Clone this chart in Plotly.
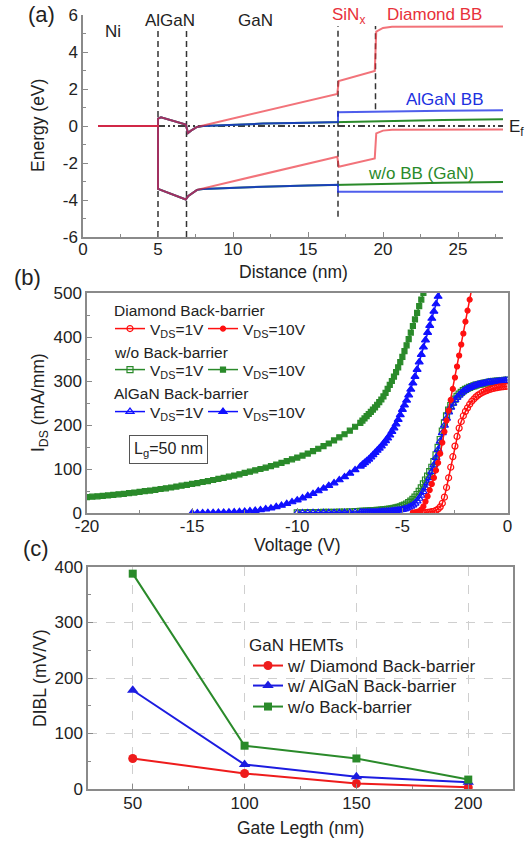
import plotly.graph_objects as go

# ---------------- Panel (a): band diagram ----------------
dist_red_cb = [1, 5, 5, 5.2, 6.85, 7.0, 7.2, 7.6, 16.95, 17.05, 19.45, 19.55, 20.0, 20.6, 28]
cb_red = [0, 0, 0.4, 0.47, 0.08, -0.38, -0.25, -0.05, 1.73, 2.43, 2.97, 5.1, 5.3, 5.37, 5.38]
dist_red_vb = [1, 5, 5, 6.85, 7.0, 7.3, 7.6, 16.95, 17.05, 19.45, 19.55, 20.0, 20.6, 28]
vb_red = [0, 0, -3.4, -3.97, -3.8, -3.6, -3.45, -1.66, -2.2, -1.75, -0.4, -0.25, -0.2, -0.19]

dist_bg_cb = [1, 5, 5, 5.2, 6.85, 7.0, 7.2, 7.6, 8, 10, 12, 15, 17, 17, 20, 24, 28]
cb_blue = [0, 0, 0.4, 0.47, 0.08, -0.38, -0.25, -0.05, 0, 0.08, 0.13, 0.18, 0.22, 0.75, 0.8, 0.83, 0.85]
cb_green = [0, 0, 0.4, 0.47, 0.08, -0.38, -0.25, -0.05, 0, 0.08, 0.13, 0.18, 0.22, 0.22, 0.27, 0.32, 0.37]
dist_bg_vb = [1, 5, 5, 6.85, 7.0, 7.3, 7.6, 8, 10, 12, 15, 17, 17, 20, 24, 28]
vb_blue = [0, 0, -3.4, -3.97, -3.8, -3.6, -3.45, -3.4, -3.32, -3.28, -3.22, -3.18, -3.55, -3.55, -3.55, -3.55]
vb_green = [0, 0, -3.4, -3.97, -3.8, -3.6, -3.45, -3.4, -3.32, -3.28, -3.22, -3.18, -3.18, -3.12, -3.07, -3.03]

fermi_x = [1, 28]
fermi_e = [0, 0]

bound_x = [5, 6.9, 17, 19.5]
bound_top = [5.2, 5.2, 5.4, 5.4]
bound_bottom = [-6, -6, -4.9, 0.9]

energy_ticks = [-6, -4, -2, 0, 2, 4, 6]
energy_ticktext = ["-6", "-4", "-2", "0", "2", "4", "6"]

# ---------------- Panel (b): transfer curves ----------------
V_COARSE = [-20.0, -19.75, -19.5, -19.25, -19.0, -18.75, -18.5, -18.25, -18.0, -17.75,
            -17.5, -17.25, -17.0, -16.75, -16.5, -16.25, -16.0, -15.75, -15.5, -15.25,
            -15.0, -14.75, -14.5, -14.25, -14.0, -13.75, -13.5, -13.25, -13.0, -12.75,
            -12.5, -12.25, -12.0, -11.75, -11.5, -11.25, -11.0, -10.75, -10.5, -10.25,
            -10.0, -9.75, -9.5, -9.25, -9.0, -8.75, -8.5, -8.25, -8.0, -7.75,
            -7.5, -7.25, -7.0]
V_FINE = [-6.9, -6.8, -6.7, -6.6, -6.5, -6.4, -6.3, -6.2, -6.1, -6.0,
          -5.9, -5.8, -5.7, -5.6, -5.5, -5.4, -5.3, -5.2, -5.1, -5.0,
          -4.9, -4.8, -4.7, -4.6, -4.5, -4.4, -4.3, -4.2, -4.1, -4.0,
          -3.9, -3.8, -3.7, -3.6, -3.5, -3.4, -3.3, -3.2, -3.1, -3.0,
          -2.9, -2.8, -2.7, -2.6, -2.5, -2.4, -2.3, -2.2, -2.1, -2.0,
          -1.9, -1.8, -1.7, -1.6, -1.5, -1.4, -1.3, -1.2, -1.1, -1.0,
          -0.9, -0.8, -0.7, -0.6, -0.5, -0.4, -0.3, -0.2, -0.1, 0.0]

# w/o back-barrier, VDS=10V  (V_COARSE all + V_FINE[-6.9 .. -4.0])
wo_10v = [36, 37, 38, 39, 40, 41, 42.5, 43.5, 45, 46.5, 48, 49.5, 51, 52.5, 54.5, 56, 58, 60, 62, 64,
          66, 68, 70.5, 72.5, 75, 77.5, 80, 82.5, 85, 88, 91, 94, 97, 100, 103, 106.5, 110, 114, 118, 122,
          126, 130.5, 135, 140.5, 146, 152, 158, 165, 172, 179, 187, 196, 205,
          210, 215, 220, 225, 230, 235, 240, 246, 252, 258, 265, 273, 282, 291, 300, 310, 320, 331, 343, 355,
          368, 381, 395, 410, 425, 440, 455, 470, 485, 500]
# AlGaN back-barrier, VDS=10V (V_COARSE from -15 + V_FINE[-6.9 .. -3.2])
algan_10v = [0, 0, 0.3, 0.5, 0.8, 1, 1.3, 1.7, 2.2, 2.8, 3.5, 4.5, 5.5, 7, 9, 11, 14, 17, 21, 25,
             29, 34, 39, 44, 50, 56, 62, 68, 75, 82, 90, 98, 106,
             110, 114, 118, 122, 127, 132, 137, 142, 147, 152, 158, 164, 170, 177, 185, 193, 202, 212, 223, 235,
             245, 256, 268, 281, 295, 310, 326, 343, 360, 377, 393, 410, 426, 442, 458, 475, 492, 508]
# Diamond back-barrier, VDS=10V (V_FINE[-4.5 .. -1.7])
dia_10v = [1, 1.5, 2.5, 4, 8, 15, 26, 38, 52, 66, 80, 97, 114, 135, 160, 185, 210, 233, 257, 282,
           308, 333, 358, 383, 408, 435, 460, 485, 510]
# w/o back-barrier, VDS=1V (V_COARSE from -10 + V_FINE all)
wo_1v = [0.5, 0.6, 0.7, 0.8, 1, 1.2, 1.4, 1.6, 1.9, 2.2, 2.6, 3, 3.5,
         3.7, 3.9, 4.2, 4.5, 4.8, 5.1, 5.5, 5.9, 6.3, 6.8, 7.3, 7.8, 8.4, 9, 9.7, 10.5, 11.5, 12.6, 14, 16,
         18, 20.5, 23.5, 27, 31, 36, 42, 49, 57, 66, 75, 84, 94, 104, 117, 132, 149, 167, 186, 205,
         221, 234, 244, 252, 259, 265, 270, 274, 278, 281, 283.5, 285.5, 287.5, 289, 290.5, 292, 293, 294,
         295, 296, 297, 298, 298.5, 299, 299.5, 300, 300.5, 301, 301.5, 302]
# AlGaN back-barrier, VDS=1V (V_COARSE from -10 + V_FINE all)
algan_1v = [0.2, 0.25, 0.3, 0.35, 0.4, 0.5, 0.6, 0.7, 0.8, 0.95, 1.1, 1.3, 1.5,
            1.6, 1.7, 1.8, 1.95, 2.1, 2.25, 2.4, 2.6, 2.8, 3, 3.2, 3.5, 3.8, 4.1, 4.5, 5, 5.5, 6.1, 6.8, 7.5,
            9, 10.5, 12.5, 15, 18, 22, 27, 33, 40, 48, 57, 68, 80, 94, 109, 126, 144, 163, 182, 199,
            215, 229, 240, 249, 257, 263, 268, 273, 277, 280, 283, 285, 287, 289, 290.5, 292, 293, 294,
            295, 296, 297, 297.5, 298, 298.5, 299, 299.5, 300, 300.5, 301, 301.5]
# Diamond back-barrier, VDS=1V (V_FINE[-4.0 .. 0])
dia_1v = [0.5, 1, 1.5, 2, 3, 4, 6, 9, 14, 22, 36, 58, 80, 104, 128, 152, 174, 193, 208, 221,
          231, 239, 247, 254, 259, 264, 268, 271, 274, 276, 278, 280, 281.5, 283, 284, 285, 286, 286.5,
          287, 287.5, 288]

v_wo_10 = V_COARSE + V_FINE[:30]
v_algan_10 = V_COARSE[20:] + V_FINE[:38]
v_dia_10 = V_FINE[24:53]
v_1v = V_COARSE[40:] + V_FINE
v_dia_1 = V_FINE[29:]

volt_ticks = [-20, -15, -10, -5, 0]
volt_ticktext = ["-20", "-15", "-10", "-5", "0"]

# ---------------- Panel (c): DIBL ----------------
gate_len = [50, 100, 150, 200]
dibl_diamond = [55, 28, 10, 3]
dibl_algan = [178, 44, 22, 12]
dibl_wo = [388, 78, 55, 17]

# ---------------- styling ----------------
W, H = 529, 842
FONT = "Liberation Sans, Arial, sans-serif"
TXT = "#222222"
AXC = "#8a8a8a"
RED = "#ff1010"
GREEN = "#2a8a2a"
BLUE = "#1010ff"
TICKSIZE = 17


def px_x(p):
    return p / W


def px_y(p):
    return 1 - p / H


fig = go.Figure()

# Panel (a) traces
fig.add_trace(go.Scatter(x=fermi_x, y=fermi_e, mode="lines", xaxis="x", yaxis="y", showlegend=False,
                         line=dict(color="black", width=1.6, dash="7px,3px,2px,3px,2px,3px")))
for bx, bt, bb in zip(bound_x, bound_top, bound_bottom):
    fig.add_trace(go.Scatter(x=[bx, bx], y=[bb, bt], mode="lines", xaxis="x", yaxis="y", showlegend=False,
                             line=dict(color="#333333", width=1.5, dash="6px,4px")))
for xs, ys, col in [(dist_bg_cb, cb_green, GREEN), (dist_bg_vb, vb_green, GREEN),
                    (dist_bg_cb, cb_blue, "rgba(20,40,230,0.75)"), (dist_bg_vb, vb_blue, "rgba(20,40,230,0.75)"),
                    (dist_red_cb, cb_red, "rgba(235,40,50,0.65)"), (dist_red_vb, vb_red, "rgba(235,40,50,0.65)")]:
    fig.add_trace(go.Scatter(x=xs, y=ys, mode="lines", xaxis="x", yaxis="y", showlegend=False,
                             line=dict(color=col, width=2)))


# Panel (b) traces
def add_iv(x, y, col, sym, name, leg, size=6):
    fig.add_trace(go.Scatter(x=x, y=y, mode="lines+markers", xaxis="x2", yaxis="y2", name=name, legend=leg,
                             line=dict(color=col, width=1.5),
                             marker=dict(symbol=sym, size=size, color=col,
                                         line=dict(color=col, width=1.2))))


add_iv(v_1v, wo_1v, GREEN, "square-open", "V<sub>DS</sub>=1V", "legend3")
add_iv(v_wo_10, wo_10v, GREEN, "square", "V<sub>DS</sub>=10V", "legend4", 5)
add_iv(v_1v, algan_1v, BLUE, "triangle-up-open", "V<sub>DS</sub>=1V", "legend5", 7)
add_iv(v_algan_10, algan_10v, BLUE, "triangle-up", "V<sub>DS</sub>=10V", "legend6", 7)
add_iv(v_dia_1, dia_1v, RED, "circle-open", "V<sub>DS</sub>=1V", "legend", 6)
add_iv(v_dia_10, dia_10v, RED, "circle", "V<sub>DS</sub>=10V", "legend2", 5)

# Panel (c) traces
for ys, col, sym, sz, nm, lg in [(dibl_diamond, "#ee1c1c", "circle", 9, "w/ Diamond Back-barrier", "legend7"),
                                 (dibl_algan, "#1c1ce0", "triangle-up", 10, "w/ AlGaN Back-barrier", "legend8"),
                                 (dibl_wo, "#2a8a2a", "square", 8, "w/o Back-barrier", "legend9")]:
    fig.add_trace(go.Scatter(x=gate_len, y=ys, mode="lines+markers", xaxis="x3", yaxis="y3", name=nm,
                             legend=lg, line=dict(color=col, width=2),
                             marker=dict(symbol=sym, size=sz, color=col)))


def ax(**kw):
    d = dict(showline=True, linecolor=AXC, linewidth=1.5, ticks="inside", ticklen=5, tickwidth=1.2,
             tickcolor=AXC, tickfont=dict(family=FONT, size=TICKSIZE, color=TXT), showgrid=False,
             zeroline=False, automargin=False)
    d.update(kw)
    return d


def minor(dt):
    return dict(ticks="inside", ticklen=3, tickcolor=AXC, tickwidth=1.2, dtick=dt)


def leg(xp, yp, size):
    return dict(x=px_x(xp), y=px_y(yp), xanchor="left", yanchor="middle", orientation="h",
                bgcolor="rgba(0,0,0,0)", font=dict(family=FONT, size=size, color=TXT), itemwidth=30)


LB = 15.5
LC = 17

fig.update_layout(
    width=W, height=H, autosize=False, margin=dict(l=0, r=0, t=0, b=0),
    paper_bgcolor="white", plot_bgcolor="white",
    font=dict(family=FONT, size=15, color=TXT),
    xaxis=ax(domain=[px_x(83), px_x(503)], range=[0, 28], dtick=5, anchor="y", minor=minor(2.5),
             ticklabelstandoff=-4),
    yaxis=ax(domain=[px_y(237), px_y(15)], range=[-6, 6], tickvals=energy_ticks, ticktext=energy_ticktext,
             anchor="x", minor=minor(1)),
    xaxis2=ax(domain=[px_x(87), px_x(507.5)], range=[-20, 0], tickvals=volt_ticks, ticktext=volt_ticktext,
              anchor="y2", minor=minor(2.5), mirror=True, ticklabelstandoff=-3),
    yaxis2=ax(domain=[px_y(513), px_y(293)], range=[0, 500], dtick=100, anchor="x2", minor=minor(50),
              mirror=True),
    xaxis3=ax(domain=[px_x(88), px_x(513)], range=[30, 220], tickvals=[50, 100, 150, 200], anchor="y3",
              minor=dict(ticks="inside", ticklen=3, tickcolor=AXC, tickwidth=1.2, tickvals=[75, 125, 175]),
              mirror=True, showgrid=True, gridcolor="#cfcfcf", griddash="dash", gridwidth=1,
              ticklabelstandoff=-2),
    yaxis3=ax(domain=[px_y(789), px_y(567)], range=[0, 400], dtick=100, anchor="x3", minor=minor(50),
              mirror=True, showgrid=True, gridcolor="#cfcfcf", griddash="dash", gridwidth=1),
    legend=leg(110, 329, LB), legend2=leg(203, 329, LB),
    legend3=leg(110, 370, LB), legend4=leg(203, 370, LB),
    legend5=leg(110, 412, LB), legend6=leg(203, 412, LB),
    legend7=leg(248, 666, LC), legend8=leg(248, 686, LC), legend9=leg(248, 707, LC),
)

ann = []


def text(t, x, y, size, col=TXT, xanchor="center", angle=0):
    ann.append(dict(text=t, x=px_x(x), y=px_y(y), xref="paper", yref="paper", showarrow=False,
                    font=dict(family=FONT, size=size, color=col), xanchor=xanchor, yanchor="middle",
                    textangle=angle))


# panel letters
text("(a)", 41, 15, 22)
text("(b)", 27, 277, 22)
text("(c)", 36, 548, 22)
# axis titles
text("Distance (nm)", 293, 272, 17.5)
text("Energy (eV)", 38, 126, 17.5, angle=-90)
text("Voltage (V)", 297, 545, 17.5)
text("I<sub>DS</sub> (mA/mm)", 40, 403, 17.5, angle=-90)
text("Gate Legth (nm)", 300, 828, 17.5)
text("DIBL (mV/V)", 40, 678, 17.5, angle=-90)
# legend group titles
text("Diamond Back-barrier", 112, 310, LB, xanchor="left")
text("w/o Back-barrier", 112, 352, LB, xanchor="left")
text("AlGaN Back-barrier", 112, 393, LB, xanchor="left")
text("GaN HEMTs", 247, 645, LC, xanchor="left")

# panel (a) region labels (data coordinates)
for t, x, y, col in [("Ni", 2.0, 5.1, TXT), ("AlGaN", 5.8, 5.7, TXT), ("GaN", 11.5, 5.7, TXT),
                     ("SiN<sub>x</sub>", 17.7, 5.95, "#e8313a"), ("Diamond BB", 23.4, 6.0, "#e8313a"),
                     ("AlGaN BB", 24.1, 1.45, "#2030e0"), ("w/o BB (GaN)", 22.5, -2.55, "#2a8a2a")]:
    ann.append(dict(text=t, x=x, y=y, xref="x", yref="y", showarrow=False,
                    font=dict(family=FONT, size=17, color=col), xanchor="center", yanchor="middle"))
text("E<sub>f</sub>", 507, 128, 17, xanchor="left")
# Lg box
ann.append(dict(text="L<sub>g</sub>=50 nm", x=px_x(168), y=px_y(449), xref="paper", yref="paper",
                showarrow=False, font=dict(family=FONT, size=16, color=TXT), xanchor="center", yanchor="middle",
                bordercolor="#555555", borderwidth=1, borderpad=4, bgcolor="white"))
fig.update_layout(annotations=ann)

fig.write_html("out.html")
